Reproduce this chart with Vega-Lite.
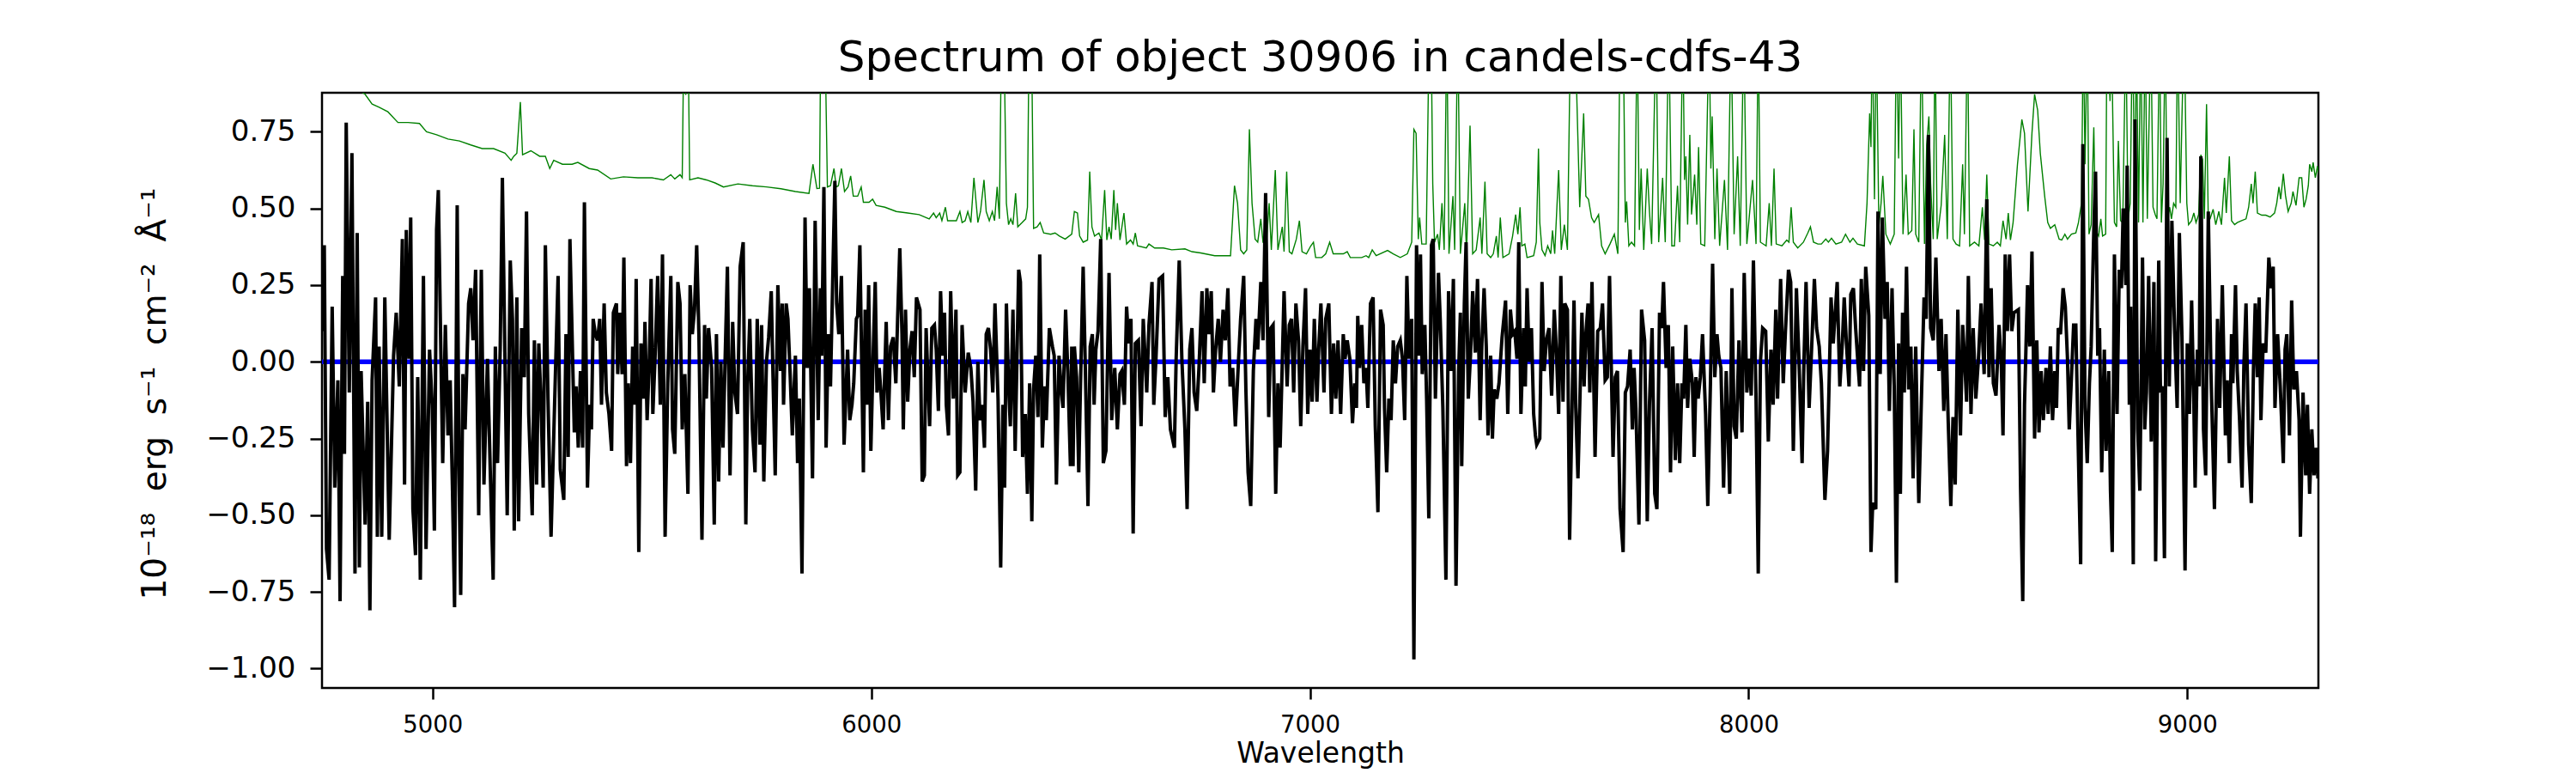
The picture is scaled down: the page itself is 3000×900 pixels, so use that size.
{
  "$schema": "https://vega.github.io/schema/vega-lite/v6.json",
  "autosize": "none",
  "padding": {"left": 375, "top": 108, "right": 300, "bottom": 99},
  "width": 2325,
  "height": 693,
  "background": "white",
  "config": {
    "font": "DejaVu Sans",
    "view": {"stroke": "black", "strokeWidth": 2.5}
  },
  "title": {
    "text": "Spectrum of object 30906 in candels-cdfs-43",
    "font": "DejaVu Sans",
    "fontSize": 50,
    "fontWeight": "normal",
    "color": "black",
    "anchor": "middle",
    "frame": "group",
    "baseline": "alphabetic",
    "offset": 23,
    "dy": 48
  },
  "datasets": {
    "sky": [
      {"w":4748,"f":0.99},{"w":4790,"f":0.93},{"w":4846,"f":0.872},{"w":4862,"f":0.84},{"w":4878,"f":0.83},{"w":4898,"f":0.815},{"w":4921,"f":0.78},{"w":4944,"f":0.78},{"w":4970,"f":0.777},{"w":4986,"f":0.75},{"w":5009,"f":0.74},{"w":5035,"f":0.726},{"w":5061,"f":0.72},{"w":5087,"f":0.707},{"w":5113,"f":0.695},{"w":5139,"f":0.695},{"w":5165,"f":0.68},{"w":5179,"f":0.657},{"w":5185,"f":0.67},{"w":5192,"f":0.68},{"w":5200,"f":0.847},{"w":5205,"f":0.675},{"w":5224,"f":0.688},{"w":5244,"f":0.67},{"w":5257,"f":0.67},{"w":5267,"f":0.63},{"w":5276,"f":0.657},{"w":5296,"f":0.644},
      {"w":5318,"f":0.644},{"w":5331,"f":0.65},{"w":5357,"f":0.63},{"w":5376,"f":0.625},{"w":5406,"f":0.596},{"w":5435,"f":0.603},{"w":5468,"f":0.6},{"w":5500,"f":0.6},{"w":5526,"f":0.593},{"w":5543,"f":0.61},{"w":5552,"f":0.596},{"w":5564,"f":0.61},{"w":5569,"f":0.6},{"w":5573,"f":1.1},{"w":5577,"f":0.87},{"w":5582,"f":1.1},{"w":5586,"f":0.593},{"w":5605,"f":0.6},{"w":5624,"f":0.593},{"w":5644,"f":0.583},{"w":5663,"f":0.57},{"w":5696,"f":0.58},{"w":5729,"f":0.574},{"w":5761,"f":0.57},{"w":5794,"f":0.564},{"w":5827,"f":0.555},{"w":5858,"f":0.549},{"w":5867,"f":0.644},{"w":5876,"f":0.565},{"w":5882,"f":0.566},{"w":5885,"f":1.1},
      {"w":5894,"f":1.1},{"w":5900,"f":0.57},{"w":5907,"f":0.574},{"w":5915,"f":0.63},{"w":5920,"f":0.57},{"w":5925,"f":0.574},{"w":5932,"f":0.63},{"w":5939,"f":0.555},{"w":5947,"f":0.57},{"w":5953,"f":0.606},{"w":5959,"f":0.54},{"w":5969,"f":0.54},{"w":5977,"f":0.57},{"w":5982,"f":0.52},{"w":5995,"f":0.52},{"w":6003,"f":0.53},{"w":6011,"f":0.51},{"w":6031,"f":0.504},{"w":6057,"f":0.49},{"w":6083,"f":0.485},{"w":6109,"f":0.48},{"w":6132,"f":0.466},{"w":6142,"f":0.485},{"w":6148,"f":0.47},{"w":6156,"f":0.485},{"w":6161,"f":0.46},{"w":6169,"f":0.504},{"w":6174,"f":0.46},{"w":6194,"f":0.46},{"w":6202,"f":0.49},{"w":6207,"f":0.454},{"w":6214,"f":0.46},{"w":6220,"f":0.49},{"w":6227,"f":0.454},{"w":6234,"f":0.6},{"w":6243,"f":0.454},{"w":6249,"f":0.49},{"w":6257,"f":0.593},{"w":6262,"f":0.49},{"w":6269,"f":0.46},{"w":6276,"f":0.49},{"w":6281,"f":0.46},{"w":6287,"f":0.57},{"w":6292,"f":0.466},{"w":6297,"f":1.1},{"w":6302,"f":1.1},{"w":6308,"f":0.517},{"w":6313,"f":0.447},{"w":6318,"f":0.466},{"w":6323,"f":0.447},{"w":6329,"f":0.549},{"w":6334,"f":0.44},{"w":6344,"f":0.454},{"w":6352,"f":0.466},{"w":6356,"f":0.504},{"w":6360,"f":1.1},{"w":6365,"f":1.1},{"w":6370,"f":0.435},{"w":6378,"f":0.44},{"w":6385,"f":0.454},{"w":6393,"f":0.42},{"w":6409,"f":0.416},{"w":6419,"f":0.42},{"w":6429,"f":0.41},{"w":6442,"f":0.4},
      {"w":6457,"f":0.416},{"w":6463,"f":0.49},{"w":6470,"f":0.485},{"w":6475,"f":0.41},{"w":6483,"f":0.39},{"w":6493,"f":0.397},{"w":6498,"f":0.62},{"w":6503,"f":0.44},{"w":6509,"f":0.41},{"w":6519,"f":0.42},{"w":6525,"f":0.397},{"w":6532,"f":0.56},{"w":6537,"f":0.397},{"w":6542,"f":0.44},{"w":6547,"f":0.4},{"w":6553,"f":0.56},{"w":6557,"f":0.43},{"w":6561,"f":0.517},{"w":6567,"f":0.397},{"w":6576,"f":0.485},{"w":6582,"f":0.384},{"w":6591,"f":0.397},{"w":6597,"f":0.384},{"w":6602,"f":0.42},{"w":6607,"f":0.378},{"w":6627,"f":0.371},{"w":6633,"f":0.384},{"w":6646,"f":0.371},{"w":6666,"f":0.371},{"w":6685,"f":0.365},{"w":6715,"f":0.368},{"w":6731,"f":0.359},{"w":6751,"f":0.355},{"w":6783,"f":0.346},{"w":6819,"f":0.346},{"w":6828,"f":0.574},{"w":6835,"f":0.517},{"w":6842,"f":0.365},{"w":6849,"f":0.352},{"w":6856,"f":0.365},{"w":6862,"f":0.758},{"w":6868,"f":0.517},{"w":6875,"f":0.4},{"w":6881,"f":0.39},{"w":6888,"f":0.466},{"w":6893,"f":0.39},{"w":6901,"f":0.39},{"w":6907,"f":0.517},{"w":6912,"f":0.365},{"w":6921,"f":0.625},{"w":6927,"f":0.365},{"w":6937,"f":0.44},{"w":6941,"f":0.359},{"w":6947,"f":0.62},{"w":6953,"f":0.359},{"w":6959,"f":0.352},{"w":6969,"f":0.4},{"w":6976,"f":0.46},{"w":6982,"f":0.359},{"w":6992,"f":0.352},{"w":7002,"f":0.378},{"w":7008,"f":0.39},{"w":7013,"f":0.34},
      {"w":7027,"f":0.34},{"w":7036,"f":0.352},{"w":7045,"f":0.39},{"w":7053,"f":0.352},{"w":7076,"f":0.352},{"w":7085,"f":0.359},{"w":7092,"f":0.34},{"w":7118,"f":0.34},{"w":7128,"f":0.346},{"w":7134,"f":0.34},{"w":7142,"f":0.365},{"w":7151,"f":0.346},{"w":7177,"f":0.363},{"w":7190,"f":0.352},{"w":7206,"f":0.34},{"w":7222,"f":0.352},{"w":7232,"f":0.39},{"w":7237,"f":0.758},{"w":7242,"f":0.745},{"w":7247,"f":0.4},{"w":7250,"f":0.47},{"w":7255,"f":0.384},{"w":7265,"f":0.384},{"w":7272,"f":1.1},{"w":7276,"f":1.1},{"w":7280,"f":0.58},{"w":7284,"f":0.39},{"w":7291,"f":0.416},{"w":7295,"f":0.365},{"w":7301,"f":0.517},{"w":7306,"f":0.365},{"w":7312,"f":1.1},{"w":7317,"f":0.352},{"w":7326,"f":0.54},{"w":7330,"f":0.365},{"w":7337,"f":1.1},{"w":7343,"f":0.352},{"w":7353,"f":0.517},{"w":7357,"f":0.352},{"w":7365,"f":0.77},{"w":7371,"f":0.352},{"w":7379,"f":0.365},{"w":7388,"f":0.47},{"w":7392,"f":0.352},{"w":7399,"f":0.587},{"w":7404,"f":0.352},{"w":7412,"f":0.34},{"w":7418,"f":0.352},{"w":7425,"f":0.41},{"w":7429,"f":0.34},{"w":7434,"f":0.47},{"w":7440,"f":0.34},{"w":7454,"f":0.352},{"w":7462,"f":0.41},{"w":7469,"f":0.48},{"w":7474,"f":0.416},{"w":7479,"f":0.504},{"w":7483,"f":0.378},{"w":7490,"f":0.384},{"w":7495,"f":0.34},{"w":7510,"f":0.346},{"w":7516,"f":0.39},{"w":7521,"f":0.695},{"w":7524,"f":0.454},{"w":7529,"f":0.365},{"w":7536,"f":0.346},{"w":7542,"f":0.378},{"w":7549,"f":0.352},{"w":7553,"f":0.428},{"w":7558,"f":0.352},{"w":7567,"f":0.625},{"w":7573,"f":0.365},{"w":7580,"f":0.447},{"w":7587,"f":0.365},{"w":7592,"f":0.87},
      {"w":7604,"f":1.1},{"w":7615,"f":0.504},{"w":7624,"f":0.81},{"w":7629,"f":0.54},{"w":7635,"f":0.53},{"w":7642,"f":0.47},{"w":7648,"f":0.454},{"w":7658,"f":0.48},{"w":7665,"f":0.378},{"w":7673,"f":0.352},{"w":7684,"f":0.384},{"w":7694,"f":0.416},{"w":7702,"f":0.352},{"w":7707,"f":1.1},{"w":7714,"f":1.1},{"w":7719,"f":0.454},{"w":7722,"f":0.523},{"w":7727,"f":0.378},{"w":7733,"f":0.39},{"w":7740,"f":0.378},{"w":7746,"f":1.1},{"w":7751,"f":0.43},{"w":7755,"f":0.63},{"w":7761,"f":0.365},{"w":7769,"f":0.63},{"w":7774,"f":0.49},{"w":7779,"f":0.384},{"w":7789,"f":1.1},{"w":7795,"f":0.39},{"w":7804,"f":0.6},{"w":7810,"f":0.39},{"w":7818,"f":1.1},{"w":7825,"f":0.378},{"w":7831,"f":0.378},{"w":7838,"f":0.574},{"w":7843,"f":0.39},{"w":7850,"f":1.1},{"w":7854,"f":0.593},{"w":7857,"f":0.67},{"w":7861,"f":0.447},{"w":7866,"f":0.74},{"w":7870,"f":0.48},{"w":7877,"f":0.61},{"w":7882,"f":0.447},{"w":7886,"f":0.7},{"w":7891,"f":0.384},{"w":7900,"f":0.378},{"w":7910,"f":1.1},{"w":7914,"f":0.63},{"w":7917,"f":0.8},{"w":7923,"f":0.4},{"w":7928,"f":0.63},{"w":7934,"f":0.378},{"w":7945,"f":0.593},{"w":7952,"f":0.365},{"w":7960,"f":1.1},{"w":7967,"f":0.416},{"w":7975,"f":0.67},{"w":7981,"f":0.378},{"w":7989,"f":1.1},{"w":7996,"f":0.384},{"w":8009,"f":0.593},{"w":8017,"f":0.384},{"w":8022,"f":1.1},{"w":8027,"f":0.39},{"w":8040,"f":0.378},{"w":8047,"f":0.517},{"w":8052,"f":0.378},{"w":8058,"f":0.63},{"w":8063,"f":0.384},{"w":8076,"f":0.378},{"w":8087,"f":0.397},{"w":8092,"f":0.39},{"w":8097,"f":0.504},{"w":8102,"f":0.39},{"w":8112,"f":0.371},{"w":8125,"f":0.39},{"w":8135,"f":0.42},{"w":8141,"f":0.44},{"w":8148,"f":0.39},{"w":8158,"f":0.384},
      {"w":8166,"f":0.384},{"w":8176,"f":0.4},{"w":8182,"f":0.39},{"w":8189,"f":0.403},{"w":8199,"f":0.384},{"w":8212,"f":0.39},{"w":8221,"f":0.416},{"w":8231,"f":0.39},{"w":8238,"f":0.403},{"w":8248,"f":0.384},{"w":8264,"f":0.378},{"w":8270,"f":0.517},{"w":8276,"f":0.81},{"w":8279,"f":0.7},{"w":8282,"f":1.1},{"w":8287,"f":0.53},{"w":8291,"f":1.1},{"w":8297,"f":0.44},{"w":8302,"f":0.517},{"w":8306,"f":0.606},{"w":8313,"f":0.416},{"w":8323,"f":0.384},{"w":8332,"f":0.416},{"w":8337,"f":1.1},{"w":8342,"f":0.663},{"w":8346,"f":1.1},{"w":8352,"f":0.416},{"w":8359,"f":0.61},{"w":8364,"f":0.416},{"w":8372,"f":0.428},{"w":8377,"f":0.758},{"w":8381,"f":0.416},{"w":8388,"f":0.39},{"w":8394,"f":1.1},{"w":8401,"f":0.384},{"w":8406,"f":0.707},{"w":8411,"f":0.8},{"w":8415,"f":0.58},{"w":8421,"f":0.4},{"w":8425,"f":1.1},{"w":8430,"f":0.4},{"w":8439,"f":0.51},{"w":8447,"f":0.74},{"w":8453,"f":0.4},{"w":8460,"f":1.1},{"w":8466,"f":0.4},{"w":8473,"f":0.384},{"w":8481,"f":0.378},{"w":8488,"f":0.644},{"w":8492,"f":0.416},{"w":8499,"f":1.1},{"w":8504,"f":0.378},{"w":8515,"f":0.39},{"w":8525,"f":0.378},{"w":8533,"f":0.504},{"w":8538,"f":0.397},{"w":8543,"f":0.61},{"w":8548,"f":0.384},{"w":8558,"f":0.378},{"w":8567,"f":0.39},{"w":8574,"f":0.378},{"w":8580,"f":0.46},{"w":8587,"f":0.4},{"w":8592,"f":0.485},{"w":8597,"f":0.397},{"w":8603,"f":0.454},{"w":8613,"f":0.644},{"w":8623,"f":0.79},{"w":8629,"f":0.745},{"w":8637,"f":0.49},{"w":8646,"f":0.745},{"w":8652,"f":0.872},{"w":8659,"f":0.82},{"w":8665,"f":0.68},{"w":8675,"f":0.54},{"w":8682,"f":0.454},{"w":8688,"f":0.435},{"w":8698,"f":0.447},{"w":8708,"f":0.4},{"w":8714,"f":0.397},{"w":8721,"f":0.416},{"w":8727,"f":0.4},
      {"w":8736,"f":0.416},{"w":8746,"f":0.42},{"w":8752,"f":0.454},{"w":8759,"f":0.517},{"w":8763,"f":1.1},{"w":8767,"f":0.644},{"w":8772,"f":1.1},{"w":8776,"f":0.416},{"w":8781,"f":0.447},{"w":8787,"f":0.764},{"w":8791,"f":0.428},{"w":8798,"f":0.41},{"w":8803,"f":0.466},{"w":8807,"f":0.41},{"w":8814,"f":0.416},{"w":8817,"f":1.1},{"w":8824,"f":0.85},{"w":8827,"f":1.1},{"w":8834,"f":0.454},{"w":8839,"f":0.44},{"w":8843,"f":0.72},{"w":8848,"f":0.46},{"w":8853,"f":0.454},{"w":8860,"f":1.1},{"w":8865,"f":0.466},{"w":8870,"f":0.517},{"w":8875,"f":1.1},{"w":8881,"f":0.504},{"w":8884,"f":1.1},{"w":8889,"f":0.454},{"w":8894,"f":1.1},{"w":8899,"f":0.454},{"w":8904,"f":1.1},{"w":8909,"f":0.466},{"w":8917,"f":1.1},{"w":8922,"f":0.504},{"w":8927,"f":0.48},{"w":8931,"f":0.466},{"w":8937,"f":1.1},{"w":8941,"f":0.454},{"w":8945,"f":0.58},{"w":8950,"f":1.1},{"w":8954,"f":0.46},{"w":8960,"f":0.504},{"w":8964,"f":0.466},{"w":8969,"f":0.517},{"w":8974,"f":0.504},{"w":8978,"f":1.1},{"w":8984,"f":0.517},{"w":8988,"f":0.8},{"w":8993,"f":1.1},{"w":8999,"f":0.517},{"w":9003,"f":0.447},{"w":9010,"f":0.46},{"w":9015,"f":0.485},{"w":9020,"f":0.454},{"w":9026,"f":0.48},{"w":9031,"f":0.675},{"w":9035,"f":0.66},{"w":9039,"f":0.466},{"w":9044,"f":0.84},{"w":9048,"f":0.46},{"w":9052,"f":0.466},{"w":9059,"f":0.497},{"w":9065,"f":0.447},{"w":9072,"f":0.49},{"w":9078,"f":0.447},{"w":9085,"f":0.6},{"w":9089,"f":0.485},{"w":9096,"f":0.67},{"w":9101,"f":0.46},{"w":9108,"f":0.447},{"w":9114,"f":0.454},{"w":9124,"f":0.46},{"w":9134,"f":0.466},{"w":9140,"f":0.504},{"w":9146,"f":0.58},{"w":9150,"f":0.517},{"w":9155,"f":0.62},{"w":9160,"f":0.485},{"w":9170,"f":0.478},{"w":9179,"f":0.478},{"w":9189,"f":0.472},{"w":9199,"f":0.485},{"w":9204,"f":0.517},{"w":9209,"f":0.57},{"w":9213,"f":0.53},{"w":9219,"f":0.613},{"w":9224,"f":0.542},{"w":9230,"f":0.49},{"w":9237,"f":0.517},{"w":9241,"f":0.555},{"w":9248,"f":0.51},{"w":9255,"f":0.6},{"w":9261,"f":0.6},{"w":9266,"f":0.504},{"w":9271,"f":0.53},{"w":9276,"f":0.574},{"w":9279,"f":0.644},{"w":9284,"f":0.62},{"w":9287,"f":0.65},{"w":9292,"f":0.6},{"w":9297,"f":0.638},{"w":9301,"f":0.6}
    ],
    "flux": [
      {"w":4748,"f":0.1},{"w":4753,"f":0.38},{"w":4758,"f":-0.61},{"w":4764,"f":-0.71},{"w":4771,"f":0.18},{"w":4777,"f":-0.41},{"w":4784,"f":-0.06},{"w":4789,"f":-0.78},{"w":4795,"f":0.28},{"w":4799,"f":-0.3},{"w":4803,"f":0.78},{"w":4810,"f":-0.1},{"w":4816,"f":0.68},{"w":4823,"f":-0.69},{"w":4828,"f":0.42},{"w":4833,"f":-0.67},{"w":4837,"f":-0.03},{"w":4846,"f":-0.53},{"w":4852,"f":-0.13},{"w":4857,"f":-0.81},{"w":4862,"f":-0.06},{"w":4870,"f":0.21},{"w":4874,"f":-0.57},{"w":4878,"f":0.05},{"w":4884,"f":-0.57},{"w":4891,"f":0.21},{"w":4901,"f":-0.58},{"w":4911,"f":0.02},{"w":4917,"f":0.16},{"w":4924,"f":-0.08},{"w":4931,"f":0.4},{"w":4936,"f":-0.4},{"w":4940,"f":0.43},{"w":4946,"f":0.01},{"w":4950,"f":0.47},{"w":4955,"f":-0.48},{"w":4961,"f":-0.63},{"w":4966,"f":-0.05},{"w":4972,"f":-0.71},{"w":4979,"f":0.28},{"w":4985,"f":-0.61},{"w":4993,"f":0.04},{"w":4999,"f":-0.14},{"w":5004,"f":-0.55},{"w":5009,"f":0.43},{"w":5013,"f":0.56},{"w":5019,"f":0.01},{"w":5023,"f":-0.33},{"w":5029,"f":0.12},{"w":5035,"f":-0.24},{"w":5040,"f":-0.06},{"w":5045,"f":-0.4},{"w":5050,"f":-0.8},{"w":5056,"f":0.51},{"w":5060,"f":-0.34},{"w":5064,"f":-0.76},{"w":5069,"f":-0.04},{"w":5074,"f":-0.22},{"w":5082,"f":0.19},{"w":5087,"f":0.24},{"w":5092,"f":0.07},{"w":5098,"f":0.3},{"w":5105,"f":-0.5},{"w":5111,"f":0.3},{"w":5117,"f":-0.4},{"w":5125,"f":0.01},{"w":5132,"f":-0.39},{"w":5138,"f":-0.71},{"w":5143,"f":0.05},{"w":5148,"f":-0.33},{"w":5154,"f":0.04},{"w":5159,"f":0.6},{"w":5170,"f":-0.5},{"w":5177,"f":0.33},{"w":5182,"f":0.14},{"w":5186,"f":-0.55},{"w":5192,"f":0.21},{"w":5196,"f":-0.52},{"w":5203,"f":0.11},{"w":5209,"f":-0.05},{"w":5214,"f":0.49},{"w":5219,"f":-0.17},{"w":5227,"f":-0.5},{"w":5232,"f":0.07},{"w":5237,"f":-0.4},{"w":5242,"f":0.06},{"w":5247,"f":-0.13},{"w":5252,"f":-0.41},{"w":5257,"f":0.38},{"w":5263,"f":-0.12},{"w":5270,"f":-0.57},{"w":5278,"f":-0.14},{"w":5286,"f":0.28},{"w":5291,"f":-0.35},{"w":5299,"f":-0.45},{"w":5304,"f":0.09},{"w":5309,"f":-0.31},{"w":5313,"f":0.4},
      {"w":5323,"f":-0.23},{"w":5327,"f":-0.08},{"w":5332,"f":-0.28},{"w":5337,"f":-0.03},{"w":5342,"f":-0.28},{"w":5346,"f":0.52},{"w":5353,"f":-0.41},{"w":5358,"f":-0.14},{"w":5362,"f":-0.22},{"w":5366,"f":0.14},{"w":5371,"f":0.09},{"w":5376,"f":0.07},{"w":5381,"f":0.14},{"w":5385,"f":-0.14},{"w":5391,"f":0.19},{"w":5396,"f":-0.1},{"w":5402,"f":-0.17},{"w":5408,"f":-0.29},{"w":5412,"f":0.16},{"w":5419,"f":0.19},{"w":5422,"f":-0.04},{"w":5427,"f":0.16},{"w":5432,"f":-0.04},{"w":5436,"f":0.34},{"w":5442,"f":-0.34},{"w":5446,"f":-0.07},{"w":5451,"f":-0.33},{"w":5456,"f":0.05},{"w":5461,"f":-0.14},{"w":5464,"f":0.27},{"w":5470,"f":-0.62},{"w":5475,"f":0.06},{"w":5481,"f":-0.12},{"w":5484,"f":0.13},{"w":5489,"f":-0.19},{"w":5494,"f":0.01},{"w":5498,"f":0.27},{"w":5502,"f":-0.17},{"w":5507,"f":0.01},{"w":5513,"f":0.28},{"w":5519,"f":-0.14},{"w":5524,"f":0.35},{"w":5530,"f":-0.57},{"w":5536,"f":-0.07},{"w":5543,"f":0.28},{"w":5547,"f":-0.22},{"w":5552,"f":-0.3},{"w":5559,"f":0.26},{"w":5564,"f":0.19},{"w":5569,"f":-0.22},{"w":5575,"f":-0.04},{"w":5582,"f":-0.43},{"w":5587,"f":0.25},{"w":5592,"f":0.09},{"w":5597,"f":0.17},{"w":5602,"f":0.38},{"w":5607,"f":0.09},{"w":5614,"f":-0.58},{"w":5620,"f":0.12},{"w":5624,"f":-0.12},{"w":5629,"f":0.11},{"w":5636,"f":-0.02},{"w":5642,"f":-0.53},{"w":5647,"f":0.09},{"w":5652,"f":-0.39},{"w":5657,"f":0.0},{"w":5662,"f":-0.28},{"w":5667,"f":0.02},{"w":5672,"f":0.31},{"w":5678,"f":-0.37},{"w":5684,"f":0.13},{"w":5689,"f":-0.1},{"w":5695,"f":-0.17},{"w":5701,"f":0.31},{"w":5708,"f":0.39},{"w":5714,"f":-0.53},{"w":5718,"f":-0.08},{"w":5723,"f":0.14},{"w":5729,"f":-0.22},{"w":5735,"f":-0.36},{"w":5740,"f":0.14},{"w":5746,"f":-0.27},{"w":5750,"f":0.12},{"w":5755,"f":-0.39},{"w":5761,"f":0.0},{"w":5766,"f":0.08},{"w":5772,"f":0.23},{"w":5776,"f":-0.05},{"w":5781,"f":-0.37},{"w":5787,"f":0.25},{"w":5793,"f":-0.03},{"w":5797,"f":0.19},{"w":5800,"f":-0.14},{"w":5806,"f":0.19},{"w":5810,"f":0.14},{"w":5815,"f":-0.04},{"w":5820,"f":-0.24},{"w":5827,"f":0.02},{"w":5832,"f":-0.33},{"w":5836,"f":-0.12},{"w":5842,"f":-0.69},{"w":5849,"f":0.47},{"w":5854,"f":-0.02},{"w":5859,"f":0.24},{"w":5866,"f":-0.38},{"w":5872,"f":0.46},{"w":5879,"f":-0.19},{"w":5884,"f":0.24},
      {"w":5887,"f":0.02},{"w":5892,"f":0.57},{"w":5897,"f":-0.28},{"w":5902,"f":0.09},{"w":5907,"f":-0.08},{"w":5912,"f":0.26},{"w":5917,"f":0.59},{"w":5921,"f":0.19},{"w":5926,"f":0.09},{"w":5932,"f":0.28},{"w":5938,"f":-0.27},{"w":5946,"f":0.04},{"w":5951,"f":-0.19},{"w":5956,"f":-0.14},{"w":5960,"f":-0.07},{"w":5966,"f":0.14},{"w":5969,"f":0.15},{"w":5974,"f":0.38},{"w":5982,"f":-0.36},{"w":5986,"f":0.17},{"w":5990,"f":-0.14},{"w":5994,"f":0.25},{"w":5999,"f":-0.29},{"w":6005,"f":0.06},{"w":6009,"f":0.26},{"w":6013,"f":-0.1},{"w":6018,"f":-0.02},{"w":6022,"f":-0.1},{"w":6027,"f":-0.22},{"w":6034,"f":0.13},{"w":6039,"f":-0.19},{"w":6044,"f":0.05},{"w":6050,"f":0.08},{"w":6056,"f":-0.07},{"w":6060,"f":0.14},{"w":6065,"f":0.37},{"w":6070,"f":0.09},{"w":6073,"f":-0.22},{"w":6078,"f":0.17},{"w":6083,"f":-0.13},{"w":6088,"f":0.04},{"w":6093,"f":0.1},{"w":6098,"f":-0.05},{"w":6103,"f":0.21},{"w":6111,"f":0.17},{"w":6116,"f":-0.39},{"w":6121,"f":-0.37},{"w":6125,"f":0.11},{"w":6133,"f":-0.21},{"w":6138,"f":0.11},{"w":6144,"f":0.12},{"w":6148,"f":0.04},{"w":6153,"f":-0.16},{"w":6158,"f":0.23},{"w":6163,"f":0.02},{"w":6167,"f":0.16},{"w":6171,"f":-0.14},{"w":6176,"f":-0.24},{"w":6181,"f":0.23},{"w":6187,"f":-0.12},{"w":6193,"f":0.17},{"w":6197,"f":-0.37},{"w":6202,"f":-0.36},{"w":6207,"f":0.12},{"w":6214,"f":-0.1},{"w":6221,"f":0.03},{"w":6227,"f":-0.02},{"w":6232,"f":-0.13},{"w":6238,"f":-0.42},{"w":6243,"f":0.0},{"w":6248,"f":-0.19},{"w":6253,"f":-0.14},{"w":6258,"f":-0.28},{"w":6262,"f":0.09},{"w":6267,"f":0.11},{"w":6272,"f":0.04},{"w":6277,"f":-0.1},{"w":6282,"f":0.19},{"w":6289,"f":-0.12},{"w":6295,"f":-0.67},{"w":6300,"f":-0.14},{"w":6304,"f":-0.41},{"w":6308,"f":0.19},{"w":6313,"f":-0.08},{"w":6317,"f":-0.21},{"w":6323,"f":0.17},{"w":6328,"f":-0.29},{"w":6336,"f":0.3},{"w":6340,"f":0.26},{"w":6345,"f":-0.31},{"w":6351,"f":-0.17},{"w":6356,"f":-0.43},{"w":6361,"f":-0.07},{"w":6366,"f":-0.52},{"w":6370,"f":-0.09},{"w":6375,"f":0.02},{"w":6380,"f":-0.18},{"w":6384,"f":0.35},{"w":6390,"f":-0.28},{"w":6395,"f":-0.08},{"w":6399,"f":-0.19},{"w":6406,"f":0.11},{"w":6413,"f":0.05},{"w":6417,"f":0.02},{"w":6422,"f":-0.4},{"w":6428,"f":0.02},{"w":6433,"f":-0.09},{"w":6437,"f":-0.15},{"w":6443,"f":0.17},{"w":6448,"f":-0.03},{"w":6454,"f":-0.34},
      {"w":6457,"f":0.05},{"w":6460,"f":-0.34},{"w":6463,"f":0.05},{"w":6468,"f":-0.05},{"w":6473,"f":-0.36},{"w":6477,"f":-0.07},{"w":6483,"f":0.31},{"w":6488,"f":-0.02},{"w":6494,"f":-0.47},{"w":6499,"f":0.05},{"w":6504,"f":0.09},{"w":6508,"f":-0.14},{"w":6512,"f":0.04},{"w":6517,"f":0.1},{"w":6523,"f":0.4},{"w":6529,"f":-0.33},{"w":6535,"f":-0.29},{"w":6542,"f":0.29},{"w":6548,"f":-0.19},{"w":6555,"f":-0.02},{"w":6561,"f":-0.22},{"w":6567,"f":-0.04},{"w":6571,"f":-0.03},{"w":6577,"f":-0.14},{"w":6582,"f":0.18},{"w":6587,"f":0.06},{"w":6592,"f":0.14},{"w":6597,"f":-0.56},{"w":6602,"f":0.06},{"w":6609,"f":0.07},{"w":6615,"f":-0.21},{"w":6620,"f":0.14},{"w":6628,"f":-0.1},{"w":6633,"f":0.12},{"w":6640,"f":0.26},{"w":6644,"f":-0.14},{"w":6649,"f":0.01},{"w":6656,"f":0.27},{"w":6664,"f":0.28},{"w":6670,"f":-0.18},{"w":6676,"f":-0.05},{"w":6682,"f":-0.22},{"w":6691,"f":-0.28},{"w":6695,"f":0.01},{"w":6702,"f":0.33},{"w":6708,"f":0.01},{"w":6715,"f":-0.22},{"w":6720,"f":-0.48},{"w":6726,"f":0.04},{"w":6731,"f":0.11},{"w":6736,"f":-0.1},{"w":6742,"f":-0.16},{"w":6747,"f":-0.02},{"w":6754,"f":0.23},{"w":6759,"f":-0.07},{"w":6765,"f":0.24},{"w":6770,"f":0.09},{"w":6775,"f":0.23},{"w":6780,"f":-0.1},{"w":6785,"f":0.04},{"w":6791,"f":0.14},{"w":6796,"f":0.0},{"w":6802,"f":0.17},{"w":6807,"f":0.07},{"w":6813,"f":0.24},{"w":6818,"f":-0.08},{"w":6824,"f":-0.02},{"w":6830,"f":-0.21},{"w":6837,"f":0.0},{"w":6842,"f":0.14},{"w":6849,"f":0.28},{"w":6854,"f":-0.09},{"w":6859,"f":-0.36},{"w":6865,"f":-0.47},{"w":6871,"f":-0.03},{"w":6877,"f":0.14},{"w":6881,"f":0.04},{"w":6888,"f":0.26},{"w":6893,"f":0.07},{"w":6899,"f":0.55},{"w":6906,"f":-0.18},{"w":6911,"f":0.11},{"w":6916,"f":0.12},{"w":6922,"f":-0.43},{"w":6927,"f":-0.07},{"w":6932,"f":-0.28},{"w":6937,"f":0.0},{"w":6941,"f":0.23},{"w":6948,"f":-0.08},{"w":6953,"f":0.12},{"w":6958,"f":0.14},{"w":6963,"f":-0.1},{"w":6968,"f":0.19},{"w":6974,"f":0.07},{"w":6979,"f":-0.21},{"w":6984,"f":0.05},{"w":6990,"f":0.24},{"w":6995,"f":-0.17},{"w":7000,"f":0.04},{"w":7005,"f":-0.13},{"w":7010,"f":0.14},{"w":7016,"f":-0.13},{"w":7020,"f":0.04},{"w":7025,"f":0.19},
      {"w":7032,"f":-0.1},{"w":7036,"f":0.14},{"w":7043,"f":0.19},{"w":7049,"f":-0.17},{"w":7054,"f":0.06},{"w":7059,"f":-0.12},{"w":7064,"f":0.07},{"w":7070,"f":-0.17},{"w":7076,"f":0.09},{"w":7080,"f":0.01},{"w":7085,"f":0.07},{"w":7091,"f":0.01},{"w":7097,"f":-0.2},{"w":7102,"f":-0.07},{"w":7106,"f":-0.15},{"w":7109,"f":0.15},{"w":7113,"f":-0.02},{"w":7118,"f":0.12},{"w":7123,"f":-0.07},{"w":7128,"f":-0.02},{"w":7132,"f":-0.15},{"w":7138,"f":0.19},{"w":7144,"f":0.21},{"w":7149,"f":-0.21},{"w":7155,"f":-0.49},{"w":7161,"f":0.17},{"w":7167,"f":0.12},{"w":7170,"f":-0.15},{"w":7175,"f":-0.36},{"w":7180,"f":-0.12},{"w":7185,"f":-0.19},{"w":7190,"f":0.07},{"w":7195,"f":-0.07},{"w":7200,"f":0.05},{"w":7206,"f":0.07},{"w":7211,"f":0.01},{"w":7216,"f":-0.19},{"w":7221,"f":0.28},{"w":7226,"f":0.01},{"w":7232,"f":0.14},{"w":7237,"f":-0.97},{"w":7243,"f":0.38},{"w":7248,"f":0.02},{"w":7252,"f":0.35},{"w":7256,"f":-0.04},{"w":7262,"f":0.12},{"w":7266,"f":-0.12},{"w":7271,"f":-0.51},{"w":7277,"f":0.38},{"w":7281,"f":0.4},{"w":7286,"f":-0.12},{"w":7293,"f":0.29},{"w":7297,"f":0.14},{"w":7303,"f":-0.15},{"w":7310,"f":-0.71},{"w":7316,"f":0.23},{"w":7322,"f":-0.03},{"w":7327,"f":0.27},{"w":7333,"f":-0.73},{"w":7339,"f":-0.03},{"w":7343,"f":0.16},{"w":7346,"f":-0.34},{"w":7352,"f":0.19},{"w":7356,"f":0.39},{"w":7361,"f":-0.12},{"w":7366,"f":0.02},{"w":7371,"f":0.23},{"w":7377,"f":0.03},{"w":7382,"f":0.27},{"w":7388,"f":-0.19},{"w":7392,"f":0.06},{"w":7397,"f":0.24},{"w":7402,"f":0.05},{"w":7406,"f":-0.24},{"w":7412,"f":0.02},{"w":7416,"f":-0.25},{"w":7420,"f":-0.09},{"w":7426,"f":-0.12},{"w":7431,"f":-0.07},{"w":7438,"f":0.08},{"w":7446,"f":0.2},{"w":7451,"f":-0.17},{"w":7457,"f":0.17},{"w":7462,"f":0.09},{"w":7467,"f":0.1},{"w":7472,"f":0.01},{"w":7476,"f":0.39},{"w":7481,"f":-0.17},{"w":7487,"f":0.11},{"w":7491,"f":-0.08},{"w":7495,"f":0.24},{"w":7500,"f":0.0},{"w":7505,"f":0.11},{"w":7510,"f":-0.17},{"w":7514,"f":-0.24},{"w":7517,"f":-0.27},{"w":7524,"f":-0.25},{"w":7529,"f":0.26},{"w":7534,"f":-0.03},{"w":7539,"f":0.07},{"w":7545,"f":0.11},{"w":7551,"f":-0.11},{"w":7557,"f":0.17},{"w":7562,"f":0.03},{"w":7567,"f":-0.17},{"w":7572,"f":0.28},{"w":7577,"f":-0.13},{"w":7581,"f":0.19},{"w":7587,"f":0.17},{"w":7592,"f":-0.58},
      {"w":7602,"f":0.2},{"w":7606,"f":-0.15},{"w":7611,"f":-0.38},{"w":7616,"f":-0.09},{"w":7620,"f":0.16},{"w":7625,"f":-0.08},{"w":7629,"f":0.09},{"w":7634,"f":0.19},{"w":7638,"f":-0.1},{"w":7643,"f":0.26},{"w":7650,"f":-0.31},{"w":7656,"f":0.1},{"w":7662,"f":0.11},{"w":7667,"f":0.19},{"w":7673,"f":-0.06},{"w":7678,"f":-0.05},{"w":7683,"f":0.28},{"w":7691,"f":-0.31},{"w":7696,"f":-0.05},{"w":7701,"f":-0.03},{"w":7707,"f":-0.48},{"w":7714,"f":-0.62},{"w":7719,"f":-0.1},{"w":7724,"f":-0.08},{"w":7730,"f":0.04},{"w":7735,"f":-0.22},{"w":7739,"f":-0.02},{"w":7743,"f":-0.15},{"w":7750,"f":-0.53},{"w":7756,"f":0.17},{"w":7763,"f":0.07},{"w":7769,"f":-0.52},{"w":7774,"f":-0.14},{"w":7780,"f":0.11},{"w":7786,"f":-0.43},{"w":7791,"f":-0.48},{"w":7797,"f":0.16},{"w":7802,"f":0.11},{"w":7806,"f":0.26},{"w":7812,"f":-0.02},{"w":7817,"f":0.12},{"w":7822,"f":-0.36},{"w":7827,"f":0.05},{"w":7833,"f":-0.32},{"w":7838,"f":-0.07},{"w":7843,"f":-0.33},{"w":7848,"f":-0.07},{"w":7852,"f":-0.12},{"w":7857,"f":0.12},{"w":7861,"f":-0.15},{"w":7866,"f":0.01},{"w":7872,"f":-0.07},{"w":7876,"f":-0.31},{"w":7880,"f":-0.05},{"w":7885,"f":-0.12},{"w":7890,"f":-0.05},{"w":7895,"f":0.09},{"w":7902,"f":-0.17},{"w":7907,"f":-0.47},{"w":7913,"f":-0.07},{"w":7918,"f":0.32},{"w":7923,"f":-0.05},{"w":7928,"f":0.09},{"w":7932,"f":0.02},{"w":7937,"f":-0.02},{"w":7943,"f":-0.41},{"w":7949,"f":-0.03},{"w":7957,"f":-0.43},{"w":7962,"f":0.24},{"w":7967,"f":-0.21},{"w":7972,"f":-0.25},{"w":7978,"f":0.07},{"w":7985,"f":-0.23},{"w":7990,"f":0.29},{"w":7996,"f":-0.1},{"w":8001,"f":0.01},{"w":8006,"f":-0.11},{"w":8011,"f":0.33},{"w":8017,"f":-0.12},{"w":8022,"f":-0.69},{"w":8027,"f":0.0},{"w":8032,"f":0.11},{"w":8039,"f":0.1},{"w":8045,"f":-0.26},{"w":8051,"f":0.04},{"w":8056,"f":-0.14},{"w":8062,"f":0.17},{"w":8066,"f":-0.12},{"w":8073,"f":0.27},{"w":8079,"f":-0.07},{"w":8084,"f":0.1},{"w":8091,"f":0.3},{"w":8096,"f":0.26},{"w":8102,"f":-0.29},{"w":8109,"f":0.24},{"w":8115,"f":0.0},{"w":8122,"f":-0.33},{"w":8126,"f":-0.01},{"w":8131,"f":0.26},{"w":8138,"f":-0.15},{"w":8143,"f":0.02},{"w":8150,"f":0.27},{"w":8155,"f":0.11},{"w":8161,"f":0.05},{"w":8166,"f":-0.07},
      {"w":8174,"f":-0.45},{"w":8180,"f":-0.29},{"w":8188,"f":0.21},{"w":8193,"f":0.06},{"w":8202,"f":0.26},{"w":8208,"f":-0.08},{"w":8214,"f":0.07},{"w":8218,"f":0.21},{"w":8223,"f":0.06},{"w":8229,"f":-0.08},{"w":8233,"f":0.22},{"w":8239,"f":0.24},{"w":8244,"f":0.11},{"w":8250,"f":-0.02},{"w":8253,"f":-0.08},{"w":8257,"f":0.27},{"w":8262,"f":-0.03},{"w":8267,"f":0.31},{"w":8274,"f":0.15},{"w":8279,"f":-0.62},{"w":8283,"f":-0.46},{"w":8290,"f":-0.48},{"w":8295,"f":0.49},{"w":8300,"f":-0.04},{"w":8305,"f":0.47},{"w":8311,"f":0.14},{"w":8316,"f":0.26},{"w":8321,"f":-0.16},{"w":8327,"f":0.24},{"w":8332,"f":-0.08},{"w":8337,"f":-0.72},{"w":8342,"f":0.06},{"w":8346,"f":-0.43},{"w":8351,"f":0.16},{"w":8355,"f":-0.1},{"w":8360,"f":0.31},{"w":8365,"f":-0.09},{"w":8370,"f":0.05},{"w":8375,"f":-0.38},{"w":8381,"f":0.05},{"w":8388,"f":-0.46},{"w":8394,"f":-0.12},{"w":8400,"f":0.21},{"w":8405,"f":0.14},{"w":8410,"f":0.74},{"w":8415,"f":0.11},{"w":8421,"f":0.07},{"w":8427,"f":0.34},{"w":8434,"f":-0.03},{"w":8439,"f":0.14},{"w":8445,"f":-0.16},{"w":8450,"f":0.09},{"w":8455,"f":-0.19},{"w":8461,"f":-0.47},{"w":8466,"f":-0.18},{"w":8471,"f":-0.4},{"w":8477,"f":0.17},{"w":8483,"f":-0.24},{"w":8488,"f":0.12},{"w":8492,"f":0.02},{"w":8497,"f":-0.13},{"w":8501,"f":0.28},{"w":8507,"f":-0.17},{"w":8512,"f":0.11},{"w":8518,"f":-0.12},{"w":8524,"f":0.01},{"w":8530,"f":0.19},{"w":8537,"f":-0.04},{"w":8543,"f":0.53},{"w":8548,"f":-0.05},{"w":8553,"f":0.24},{"w":8558,"f":-0.07},{"w":8564,"f":-0.11},{"w":8571,"f":0.12},{"w":8576,"f":0.0},{"w":8580,"f":-0.24},{"w":8585,"f":0.35},{"w":8590,"f":0.1},{"w":8595,"f":0.35},{"w":8600,"f":0.1},{"w":8605,"f":0.16},{"w":8615,"f":0.17},{"w":8620,"f":-0.41},{"w":8625,"f":-0.78},{"w":8629,"f":-0.14},{"w":8636,"f":0.25},{"w":8641,"f":0.05},{"w":8646,"f":0.36},{"w":8652,"f":-0.25},{"w":8657,"f":0.07},{"w":8662,"f":-0.23},{"w":8667,"f":-0.03},{"w":8672,"f":-0.19},{"w":8678,"f":-0.02},{"w":8683,"f":-0.17},{"w":8688,"f":0.05},{"w":8693,"f":-0.19},{"w":8698,"f":-0.03},{"w":8702,"f":-0.15},{"w":8706,"f":0.11},{"w":8711,"f":0.09},{"w":8717,"f":0.24},{"w":8722,"f":0.18},{"w":8727,"f":0.01},{"w":8731,"f":-0.22},
      {"w":8741,"f":0.12},{"w":8746,"f":0.12},{"w":8750,"f":-0.17},{"w":8757,"f":-0.66},{"w":8762,"f":0.71},{"w":8767,"f":-0.15},{"w":8772,"f":-0.33},{"w":8777,"f":-0.07},{"w":8781,"f":0.05},{"w":8787,"f":0.43},{"w":8791,"f":0.62},{"w":8796,"f":0.02},{"w":8800,"f":0.11},{"w":8805,"f":-0.36},{"w":8811,"f":0.04},{"w":8815,"f":-0.29},{"w":8821,"f":-0.03},{"w":8825,"f":-0.42},{"w":8829,"f":-0.62},{"w":8834,"f":0.35},{"w":8840,"f":-0.17},{"w":8845,"f":0.3},{"w":8850,"f":0.24},{"w":8854,"f":0.5},{"w":8860,"f":0.25},{"w":8863,"f":0.64},{"w":8868,"f":-0.14},{"w":8871,"f":0.18},{"w":8877,"f":-0.66},{"w":8881,"f":0.79},{"w":8887,"f":-0.22},{"w":8892,"f":-0.42},{"w":8898,"f":0.34},{"w":8903,"f":-0.22},{"w":8907,"f":-0.1},{"w":8912,"f":0.28},{"w":8918,"f":-0.26},{"w":8924,"f":0.26},{"w":8928,"f":-0.65},{"w":8935,"f":0.33},{"w":8939,"f":-0.1},{"w":8943,"f":-0.08},{"w":8948,"f":-0.64},{"w":8954,"f":0.73},{"w":8959,"f":-0.08},{"w":8965,"f":0.46},{"w":8971,"f":0.11},{"w":8977,"f":-0.15},{"w":8982,"f":0.42},{"w":8988,"f":0.08},{"w":8995,"f":-0.68},{"w":9000,"f":0.06},{"w":9005,"f":-0.17},{"w":9010,"f":0.2},{"w":9015,"f":-0.13},{"w":9018,"f":-0.41},{"w":9023,"f":0.04},{"w":9027,"f":-0.08},{"w":9031,"f":0.67},{"w":9037,"f":-0.22},{"w":9042,"f":-0.37},{"w":9048,"f":0.49},{"w":9054,"f":-0.03},{"w":9062,"f":-0.48},{"w":9069,"f":0.14},{"w":9074,"f":-0.15},{"w":9080,"f":0.25},{"w":9087,"f":-0.24},{"w":9091,"f":-0.06},{"w":9096,"f":-0.33},{"w":9101,"f":0.09},{"w":9104,"f":-0.07},{"w":9110,"f":0.25},{"w":9114,"f":-0.03},{"w":9119,"f":-0.18},{"w":9125,"f":-0.41},{"w":9129,"f":-0.02},{"w":9134,"f":0.19},{"w":9140,"f":-0.27},{"w":9146,"f":-0.46},{"w":9151,"f":-0.02},{"w":9155,"f":0.19},{"w":9160,"f":-0.05},{"w":9164,"f":0.21},{"w":9168,"f":-0.19},{"w":9173,"f":0.06},{"w":9179,"f":0.03},{"w":9186,"f":0.34},{"w":9191,"f":0.24},{"w":9196,"f":0.31},{"w":9200,"f":-0.15},{"w":9206,"f":0.09},{"w":9212,"f":-0.08},{"w":9219,"f":-0.33},{"w":9223,"f":0.04},{"w":9227,"f":0.09},{"w":9233,"f":-0.24},{"w":9238,"f":0.2},{"w":9243,"f":-0.09},{"w":9249,"f":-0.03},{"w":9255,"f":-0.19},{"w":9258,"f":-0.57},{"w":9264,"f":-0.1},{"w":9270,"f":-0.37},{"w":9274,"f":-0.14},{"w":9279,"f":-0.43},{"w":9284,"f":-0.22},{"w":9289,"f":-0.37},{"w":9294,"f":-0.28},{"w":9298,"f":-0.38},{"w":9301,"f":-0.29}
    ]
  },
  "layer": [
    {
      "data": {"name": "sky"},
      "mark": {"type": "line", "color": "#008000", "strokeWidth": 1.4, "clip": true},
      "encoding": {
        "x": {"field": "w", "type": "quantitative", "scale": {"domain": [4747.8, 9299], "nice": false, "zero": false}},
        "y": {"field": "f", "type": "quantitative", "scale": {"domain": [-1.063, 0.877], "nice": false, "zero": false}}
      }
    },
    {
      "data": {"values": [{"level": 0}]},
      "mark": {"type": "rule", "color": "#0000ff", "strokeWidth": 5.5},
      "encoding": {
        "y": {"field": "level", "type": "quantitative"}
      }
    },
    {
      "data": {"name": "flux"},
      "mark": {"type": "line", "color": "black", "strokeWidth": 4, "clip": true},
      "encoding": {
        "x": {
          "field": "w",
          "type": "quantitative",
          "axis": {
            "values": [5000, 6000, 7000, 8000, 9000],
            "format": "d",
            "labelFont": "DejaVu Sans",
            "labelFontSize": 27.5,
            "labelColor": "black",
            "labelFlush": false,
            "labelOverlap": false,
            "labelPadding": 16,
            "tickColor": "black",
            "tickSize": 13,
            "tickWidth": 2.5,
            "domain": false,
            "grid": false,
            "title": "Wavelength",
            "titleFont": "DejaVu Sans",
            "titleFontSize": 33,
            "titleFontWeight": "normal",
            "titleColor": "black",
            "titleX": 1162.5,
            "titleY": 86,
            "titleAlign": "center",
            "titleBaseline": "alphabetic"
          }
        },
        "y": {
          "field": "f",
          "type": "quantitative",
          "axis": {
            "values": [-1, -0.75, -0.5, -0.25, 0, 0.25, 0.5, 0.75],
            "format": ".2f",
            "labelFont": "DejaVu Sans",
            "labelFontSize": 34,
            "labelColor": "black",
            "labelFlush": false,
            "labelOverlap": false,
            "labelPadding": 17,
            "tickColor": "black",
            "tickSize": 14,
            "tickWidth": 2.5,
            "domain": false,
            "grid": false,
            "title": "10⁻¹⁸\u2007erg\u2007s⁻¹\u2007cm⁻²\u2007Å⁻¹",
            "titleFont": "DejaVu Sans",
            "titleFontSize": 39,
            "titleFontWeight": "normal",
            "titleColor": "black",
            "titleX": -183,
            "titleY": 350,
            "titleAngle": 270,
            "titleAlign": "center",
            "titleBaseline": "alphabetic"
          }
        }
      }
    }
  ]
}
